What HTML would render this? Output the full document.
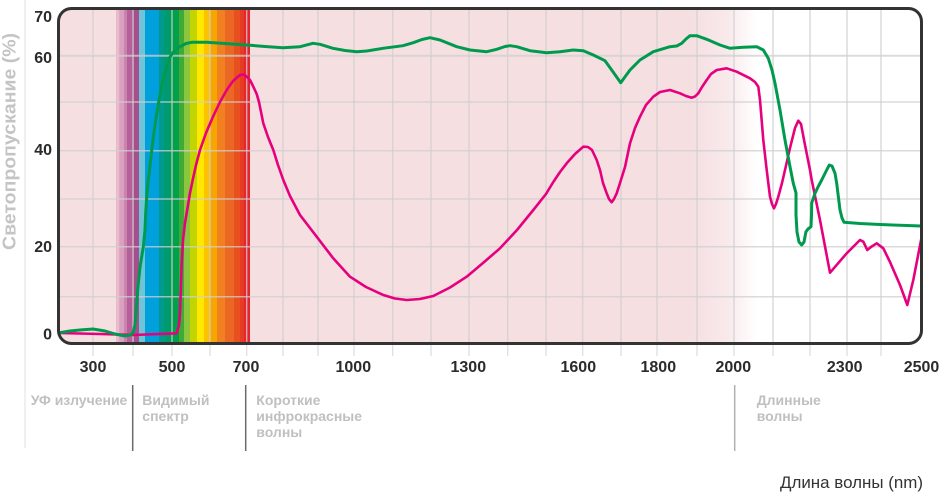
<!DOCTYPE html>
<html>
<head>
<meta charset="utf-8">
<style>
html,body{margin:0;padding:0;background:#fff;}
svg{display:block;}
text{font-family:"Liberation Sans",Arial,sans-serif;}
</style>
</head>
<body>
<svg width="940" height="492" viewBox="0 0 940 492" xmlns="http://www.w3.org/2000/svg">
<defs>
  <clipPath id="box">
    <rect x="58.5" y="8.5" width="863" height="335" rx="13" ry="13"/>
  </clipPath>
  <linearGradient id="bg" gradientUnits="userSpaceOnUse" x1="58" y1="0" x2="921" y2="0">
    <stop offset="0" stop-color="#f6dfe1"/>
    <stop offset="0.735" stop-color="#f6dfe1"/>
    <stop offset="0.775" stop-color="#f8e9eb"/>
    <stop offset="0.81" stop-color="#ffffff"/>
    <stop offset="1" stop-color="#ffffff"/>
  </linearGradient>
</defs>

<!-- left light line -->
<line x1="25" y1="0" x2="25" y2="448" stroke="#e2e2e2" stroke-width="1"/>

<g clip-path="url(#box)">
  <rect x="58" y="8" width="864" height="336" fill="url(#bg)"/>
  <!-- spectrum band -->
  <rect x="116" y="8" width="3.5" height="336" fill="#e8bccb"/>
  <rect x="119.3" y="8" width="5" height="336" fill="#d9a0bf"/>
  <rect x="124" y="8" width="3.3" height="336" fill="#c983ad"/>
  <rect x="127" y="8" width="7.3" height="336" fill="#b5609a"/>
  <rect x="134" y="8" width="5.3" height="336" fill="#a64f8d"/>
  <rect x="139" y="8" width="6.3" height="336" fill="#6fc4d8"/>
  <rect x="145" y="8" width="14.3" height="336" fill="#00a0dc"/>
  <rect x="159" y="8" width="5.3" height="336" fill="#009a8c"/>
  <rect x="164" y="8" width="6.3" height="336" fill="#009a70"/>
  <rect x="170" y="8" width="9.3" height="336" fill="#00a04c"/>
  <rect x="179" y="8" width="5.3" height="336" fill="#3fab35"/>
  <rect x="184" y="8" width="6.3" height="336" fill="#8cc63f"/>
  <rect x="190" y="8" width="7.3" height="336" fill="#c3d500"/>
  <rect x="197" y="8" width="7.3" height="336" fill="#ffe800"/>
  <rect x="204" y="8" width="6.3" height="336" fill="#fcc200"/>
  <rect x="210" y="8" width="7.3" height="336" fill="#f7a600"/>
  <rect x="217" y="8" width="8.3" height="336" fill="#f08020"/>
  <rect x="225" y="8" width="9.3" height="336" fill="#eb6724"/>
  <rect x="234" y="8" width="6.3" height="336" fill="#e8501f"/>
  <rect x="240" y="8" width="4.3" height="336" fill="#e63b24"/>
  <rect x="244" y="8" width="6" height="336" fill="#e52329"/>

  <!-- grid -->
  <g stroke="#cfcfcf" stroke-opacity="0.75" stroke-width="1.5">
    <line x1="58" y1="55.7" x2="922" y2="55.7" stroke-width="2"/>
    <line x1="58" y1="102" x2="922" y2="102"/>
    <line x1="58" y1="150.7" x2="922" y2="150.7"/>
    <line x1="58" y1="199" x2="922" y2="199"/>
    <line x1="58" y1="246.7" x2="922" y2="246.7"/>
    <line x1="58" y1="296.7" x2="922" y2="296.7"/>
    <line x1="93" y1="8" x2="93" y2="344"/>
    <line x1="133" y1="8" x2="133" y2="344"/>
    <line x1="172" y1="8" x2="172" y2="344"/>
    <line x1="210" y1="8" x2="210" y2="344"/>
    <line x1="246.7" y1="8" x2="246.7" y2="344"/>
    <line x1="283" y1="8" x2="283" y2="344"/>
    <line x1="318" y1="8" x2="318" y2="344"/>
    <line x1="354" y1="8" x2="354" y2="344"/>
    <line x1="392.7" y1="8" x2="392.7" y2="344"/>
    <line x1="431" y1="8" x2="431" y2="344"/>
    <line x1="469" y1="8" x2="469" y2="344"/>
    <line x1="507.7" y1="8" x2="507.7" y2="344"/>
    <line x1="546" y1="8" x2="546" y2="344"/>
    <line x1="582.7" y1="8" x2="582.7" y2="344"/>
    <line x1="621" y1="8" x2="621" y2="344"/>
    <line x1="657" y1="8" x2="657" y2="344"/>
    <line x1="697" y1="8" x2="697" y2="344"/>
    <line x1="734" y1="8" x2="734" y2="344"/>
    <line x1="773" y1="8" x2="773" y2="344"/>
    <line x1="810" y1="8" x2="810" y2="344"/>
    <line x1="847" y1="8" x2="847" y2="344"/>
    <line x1="881" y1="8" x2="881" y2="344"/>
  </g>

  <!-- magenta curve -->
  <polyline fill="none" stroke="#e6007e" stroke-width="2.6" stroke-linejoin="round" stroke-linecap="round"
    points="58,333 100,334 133,335 176.7,333.3 179,325 180,313 181.7,263 183,240 185,223 190,193 192.7,180 196,165 200,150 206,133 213,116.7 220,102 226.7,90 233,81 240,75 244,74.5 246.7,76.7 250,80 253,86 256.7,94 259,102 261,112 263.3,123.3 268,137 273.3,150 278,165 283.3,180 290,196 300,215 316.7,236.7 333,258 350,276.7 366,287 383.3,295 395,298.5 406.7,300 420,299 433.3,296 450,287.5 466.7,276.7 483,263 500,248.3 517,230 533.3,210 546,194 553.3,182 560,172 566.7,163.3 575,154 583.3,146.7 588,147 592,150 596.7,160 600,170 603,183 606.7,193.3 609,199 611.7,202.3 614,199 616.7,193.3 620,183 625,167 630,143.3 635,128 640,116.7 646,105 653.3,96.7 660,92 670,90 680,93.3 686,96 691.7,97.7 695,96.5 698.3,93.3 702,87 706.7,80 711,74 716.7,70 726.7,68.3 736.7,71.7 750,78.3 755,82 758.3,86.7 760,100 763.3,140 766.7,170 770,196.7 772,204 774,208.3 776,204 778.3,196.7 782,183 785,170 790,148 795,128 798.3,120.7 801,124 805,145 810,170 811.7,180 820,220 830,272.7 846.7,253.3 860,240 863.3,241.7 867.3,250 871,247 876.7,243.3 883.3,248.3 890,262 900,285 907.3,305 913.3,280 921.7,236.7"/>

  <!-- green curve -->
  <polyline fill="none" stroke="#009a4e" stroke-width="3" stroke-linejoin="round" stroke-linecap="round"
    points="58,333 70,331 80,330 93,329 105,331 115,334 125,336 130,335 133,333 135,325 136.5,305 137.7,290 140,267 143.3,247 145,230 145.7,213 146.7,197 148.3,180 150,165 153,140 156,118 159,100 163,80 166.7,67 170,57 172.7,53 176,49 180,46.7 186,43.5 191.7,42.3 206.7,42.3 225,43.5 246.7,45 265,46.5 283,47.7 300,46.7 313,43.3 320,44.3 333,48.3 345,50.5 356.7,51.7 366.7,51 383,48.3 403,45.7 413.3,42.7 422,39.5 430,37.7 440,40 456.7,46.7 470,50 486.7,51.7 496.7,49.3 505,46.5 510,45.7 516.7,46.7 530,50.7 546.7,52.7 560,51.7 573.3,50 583.3,50.7 593.3,55 605,60.7 611.7,70 620.7,82.7 630,70 640,60 653.3,51.7 670,46.7 676.7,46 681.7,43.3 686,39 690,35.7 696.7,35.7 706.7,39.3 720,45 730,48.3 743.3,47.3 756.7,46.7 763.3,50 768.3,58.3 772,70 775,83.3 780,110 785,140 790,166.7 793.3,183.3 796,193 796,215 797,232 799,242 801.7,245 804,242 805,236.7 806,231.7 808,229 811,226.7 811.5,215 811.7,203 815,193.3 818,187 821.7,180 826.7,170 829.3,165 832,166 835,173.3 836.7,183.3 840,210 842,218 844,222.3 860,223.5 880,224.5 921,226"/>
</g>

<!-- box border -->
<rect x="58.5" y="8.5" width="863" height="335" rx="13" ry="13" fill="none" stroke="#333333" stroke-width="3"/>

<!-- ticks below -->
<g stroke="#dcdcdc" stroke-width="1.2">
  <line x1="93" y1="345" x2="93" y2="356"/>
  <line x1="133" y1="345" x2="133" y2="356"/>
  <line x1="172" y1="345" x2="172" y2="356"/>
  <line x1="210" y1="345" x2="210" y2="356"/>
  <line x1="246.7" y1="345" x2="246.7" y2="356"/>
  <line x1="283" y1="345" x2="283" y2="356"/>
  <line x1="318" y1="345" x2="318" y2="356"/>
  <line x1="354" y1="345" x2="354" y2="356"/>
  <line x1="392.7" y1="345" x2="392.7" y2="356"/>
  <line x1="431" y1="345" x2="431" y2="356"/>
  <line x1="469" y1="345" x2="469" y2="356"/>
  <line x1="507.7" y1="345" x2="507.7" y2="356"/>
  <line x1="546" y1="345" x2="546" y2="356"/>
  <line x1="582.7" y1="345" x2="582.7" y2="356"/>
  <line x1="621" y1="345" x2="621" y2="356"/>
  <line x1="657" y1="345" x2="657" y2="356"/>
  <line x1="697" y1="345" x2="697" y2="356"/>
  <line x1="734" y1="345" x2="734" y2="356"/>
  <line x1="773" y1="345" x2="773" y2="356"/>
  <line x1="810" y1="345" x2="810" y2="356"/>
  <line x1="847" y1="345" x2="847" y2="356"/>
  <line x1="881" y1="345" x2="881" y2="356"/>
</g>

<!-- y labels -->
<g font-size="16" font-weight="bold" fill="#2b2b2b" text-anchor="end">
  <text x="52" y="22">70</text>
  <text x="52" y="63">60</text>
  <text x="52" y="155">40</text>
  <text x="52" y="252">20</text>
  <text x="52" y="339.5">0</text>
</g>

<!-- x labels -->
<g font-size="16" font-weight="bold" fill="#2b2b2b" text-anchor="middle">
  <text x="93" y="372">300</text>
  <text x="172" y="372">500</text>
  <text x="246" y="372">700</text>
  <text x="353.3" y="372">1000</text>
  <text x="468.3" y="372">1300</text>
  <text x="578.3" y="372">1600</text>
  <text x="658.3" y="372">1800</text>
  <text x="733.3" y="372">2000</text>
  <text x="844.7" y="372">2300</text>
  <text x="921.5" y="372">2500</text>
</g>

<!-- y title -->
<text transform="translate(15.5,141.5) rotate(-90)" text-anchor="middle" font-size="18" font-weight="bold" fill="#c4c4c4" textLength="217" lengthAdjust="spacingAndGlyphs">Светопропускание (%)</text>

<!-- section separators -->
<line x1="132.7" y1="385" x2="132.7" y2="451" stroke="#6a6a6a" stroke-width="1.5"/>
<line x1="245.7" y1="385" x2="245.7" y2="451" stroke="#6a6a6a" stroke-width="1.5"/>
<line x1="734.7" y1="385" x2="734.7" y2="451" stroke="#b0b0b0" stroke-width="1.5"/>

<!-- section labels -->
<g font-size="14" font-weight="bold" fill="#c0c0c0">
  <text x="30.7" y="405">УФ излучение</text>
  <text x="142.3" y="405">Видимый</text>
  <text x="142.3" y="421">спектр</text>
  <text x="256.3" y="405">Короткие</text>
  <text x="256.3" y="421">инфрокрасные</text>
  <text x="256.3" y="437">волны</text>
  <text x="756.7" y="405">Длинные</text>
  <text x="756.7" y="421">волны</text>
</g>

<!-- x title -->
<text x="923" y="488" text-anchor="end" font-size="17" fill="#333333" textLength="143" lengthAdjust="spacingAndGlyphs">Длина волны (nm)</text>
</svg>
</body>
</html>
